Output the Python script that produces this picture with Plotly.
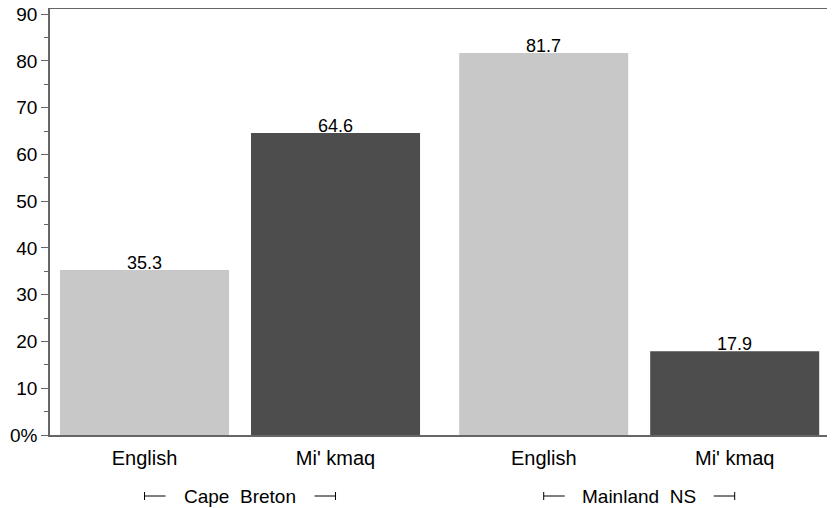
import plotly.graph_objects as go

# Percentages by region and language
regions = ['Cape Breton', 'Mainland NS']
languages = ['English', "Mi' kmaq"]
values = [35.3, 64.6, 81.7, 17.9]
bar_colors = ['#c8c8c8', '#4d4d4d', '#c8c8c8', '#4d4d4d']
positions = [0, 1, 2.09, 3.09]
tick_labels = ['English', "Mi' kmaq", 'English', "Mi' kmaq"]
y_ticks = [0, 10, 20, 30, 40, 50, 60, 70, 80, 90]
y_tick_text = ['0%', '10', '20', '30', '40', '50', '60', '70', '80', '90']

font = 'Liberation Sans, Arial, sans-serif'
axcol = '#666666'

fig = go.Figure()
fig.add_trace(go.Bar(
    x=positions,
    y=values,
    width=0.885,
    marker=dict(color=bar_colors, line=dict(width=0)),
))

# value labels sitting on top of bars
for x, v in zip(positions, values):
    fig.add_annotation(x=x, y=v, text=f'{v:.1f}', showarrow=False, yanchor='bottom', yshift=-5,
                       font=dict(size=18, color='black', family=font))

# group labels with bracket ends spanning the two bar centres
px_unit = 191.0  # pixels per x unit
plot_h = 426
for i, reg in enumerate(regions):
    a, b = positions[2 * i], positions[2 * i + 1]
    c = (a + b) / 2
    yb = -61 / plot_h
    fig.add_annotation(x=c, y=yb, xref='x', yref='paper', yanchor='middle',
                       text=reg.replace(' ', '&nbsp;&nbsp;'),
                       showarrow=False, font=dict(size=19, color='black', family=font))
    seg = 21 / px_unit
    for x0, x1 in [(a, a + seg), (b - seg, b)]:
        fig.add_shape(type='line', xref='x', yref='paper', x0=x0, x1=x1, y0=yb, y1=yb,
                      line=dict(color='black', width=1))
    for xe in (a, b):
        fig.add_shape(type='line', xref='x', yref='paper', x0=xe, x1=xe,
                      y0=yb - 4 / plot_h, y1=yb + 4 / plot_h,
                      line=dict(color='black', width=1))

fig.update_layout(
    width=827, height=500,
    margin=dict(l=42, r=5, t=1, b=73),
    plot_bgcolor='white', paper_bgcolor='white',
    showlegend=False,
    xaxis=dict(range=[-0.495, 3.589], tickvals=positions, ticktext=tick_labels,
               showgrid=False, zeroline=False, showline=True, mirror=True,
               linecolor=axcol, linewidth=1.5, ticks='outside', ticklen=4, tickcolor='rgba(0,0,0,0)',
               automargin=False,
               tickfont=dict(size=20, color='black', family=font)),
    yaxis=dict(range=[0, 91.1], tickvals=y_ticks, ticktext=y_tick_text,
               showgrid=False, zeroline=False, showline=True, mirror=True,
               linecolor=axcol, linewidth=1.5, ticks='outside', ticklen=7,
               tickcolor=axcol, automargin=False, ticklabeloverflow='allow',
               minor=dict(dtick=5, ticks='outside', ticklen=4, tickcolor=axcol),
               tickfont=dict(size=19, color='black', family=font)),
)

fig.write_html('out.html')
